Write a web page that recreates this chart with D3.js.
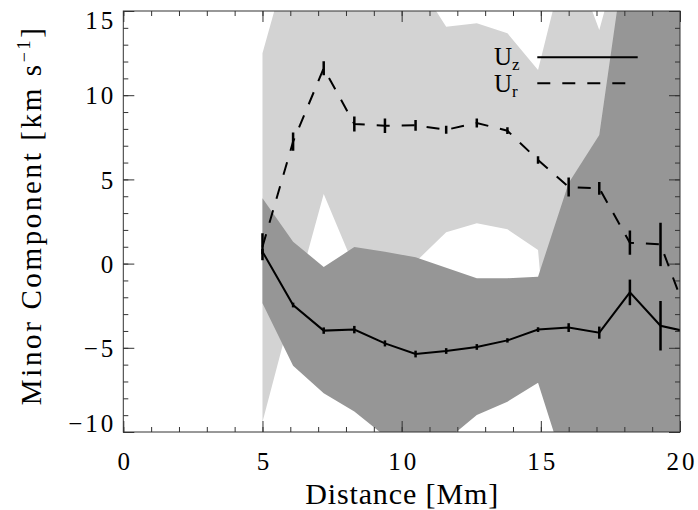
<!DOCTYPE html>
<meta charset="utf-8">
<style>
body { margin: 0; background: #fff; }
text { font-family: "Liberation Serif", serif; fill: #000; }
.axis path { display: none; }
.axis line { stroke: #333; stroke-width: 1; }
.frame { fill: none; stroke: #333; stroke-width: 1; }
</style>
<svg width="698" height="510"></svg>
<script src="https://d3js.org/d3.v7.min.js"></script>
<script>

// distance [Mm] of each sample (last one lies past the right edge)
var dist = [5.0, 6.1, 7.2, 8.3, 9.4, 10.5, 11.6, 12.7, 13.8, 14.9, 16.0, 17.1, 18.2, 19.3, 20.4];

// U_z and its error
var uz    = [0.71, -2.46, -3.98, -3.92, -4.74, -5.37, -5.19, -4.95, -4.56, -3.92, -3.80, -4.10, -1.71, -3.69, -4.1];
var uzErr = [0.15, 0.14, 0.19, 0.22, 0.18, 0.20, 0.17, 0.17, 0.13, 0.14, 0.26, 0.36, 0.76, 1.47, 0.5];

// U_r and its error
var ur    = [1.0, 7.24, 11.6, 8.29, 8.19, 8.21, 7.95, 8.35, 7.89, 6.15, 4.55, 4.47, 1.24, 1.14, -3.7];
var urErr = [0.8, 0.54, 0.42, 0.45, 0.43, 0.32, 0.24, 0.27, 0.20, 0.22, 0.56, 0.38, 0.72, 1.29, 0.5];

// spread bands (light = U_r, dark = U_z)
var lightLo = [-9.4, -2.5, 4.13, -0.2, -0.2, 0.1, 1.86, 2.39, 2.04, 0.81, -20, -20, -20, -20, -20];
var lightHi = [12.49, 19, 19, 18, 18, 16.9, 14.07, 14.27, 13.68, 11.5, 18.8, 13.87, 20.5, 20, 20];
var darkLo  = [-2.36, -6.06, -7.7, -8.79, -10.24, -11.0, -10.5, -8.99, -8.2, -7.07, -12.8, -14, -14, -14, -14];
var darkHi  = [3.88, 1.3, -0.2, 0.98, 0.71, 0.37, -0.25, -0.87, -0.87, -0.78, 4.78, 7.64, 20.4, 20, 20];

var xMajor = [0, 5, 10, 15, 20];
var yMajor = [-10, -5, 0, 5, 10, 15];

var svg = d3.select("svg"),
    width = +svg.attr("width"),
    height = +svg.attr("height");

var m = {left: 123.3, right: 680, top: 11, bottom: 432};

var x = d3.scaleLinear().domain([0, 20]).range([m.left, m.right]);
var y = d3.scaleLinear().domain([-10, 15]).range([m.bottom, m.top]);

svg.append("defs").append("clipPath").attr("id", "clip")
  .append("rect")
    .attr("x", m.left).attr("y", m.top)
    .attr("width", m.right - m.left).attr("height", m.bottom - m.top);

var rows = dist.map(function(d, i) {
  return {x: d, uz: uz[i], uzErr: uzErr[i], ur: ur[i], urErr: urErr[i],
          lLo: lightLo[i], lHi: lightHi[i], dLo: darkLo[i], dHi: darkHi[i]};
});

var plot = svg.append("g").attr("clip-path", "url(#clip)");

plot.append("path")
    .datum(rows)
    .attr("fill", "#d3d3d3")
    .attr("d", d3.area().x(function(d) { return x(d.x); })
      .y0(function(d) { return y(d.lLo); })
      .y1(function(d) { return y(d.lHi); }));

plot.append("path")
    .datum(rows)
    .attr("fill", "#969696")
    .attr("d", d3.area().x(function(d) { return x(d.x); })
      .y0(function(d) { return y(d.dLo); })
      .y1(function(d) { return y(d.dHi); }));

plot.append("path")
    .datum(rows)
    .attr("fill", "none").attr("stroke", "#000").attr("stroke-width", 2)
    .attr("d", d3.line().x(function(d) { return x(d.x); }).y(function(d) { return y(d.uz); }));

plot.append("path")
    .datum(rows)
    .attr("fill", "none").attr("stroke", "#000").attr("stroke-width", 2)
    .attr("stroke-dasharray", "13,12")
    .attr("d", d3.line().x(function(d) { return x(d.x); }).y(function(d) { return y(d.ur); }));

// error bars
["uz", "ur"].forEach(function(k) {
  plot.append("g").selectAll("line")
    .data(rows)
    .enter().append("line")
      .attr("stroke", "#000").attr("stroke-width", 2.5)
      .attr("x1", function(d) { return x(d.x); })
      .attr("x2", function(d) { return x(d.x); })
      .attr("y1", function(d) { return y(d[k] - d[k + "Err"]); })
      .attr("y2", function(d) { return y(d[k] + d[k + "Err"]); });
});

// axes: major + minor ticks on all four sides, pointing inward
function addAxis(axis, tx, ty) {
  return svg.append("g").attr("class", "axis")
    .attr("transform", "translate(" + tx + "," + ty + ")")
    .call(axis);
}

addAxis(d3.axisBottom(x).tickValues(d3.range(0, 21)).tickSize(-5).tickFormat(""), 0, m.bottom);
addAxis(d3.axisTop(x).tickValues(d3.range(0, 21)).tickSize(-5).tickFormat(""), 0, m.top);
addAxis(d3.axisTop(x).tickValues(xMajor).tickSize(-11).tickFormat(""), 0, m.top);
addAxis(d3.axisLeft(y).tickValues(d3.range(-10, 16)).tickSize(-5).tickFormat(""), m.left, 0);
addAxis(d3.axisRight(y).tickValues(d3.range(-10, 16)).tickSize(-5).tickFormat(""), m.right, 0);
addAxis(d3.axisRight(y).tickValues(yMajor).tickSize(-11).tickFormat(""), m.right, 0);

var xAxis = addAxis(d3.axisBottom(x).tickValues(xMajor).tickSize(-11), 0, m.bottom);
xAxis.selectAll("text")
    .attr("y", 38).attr("dy", null)
    .attr("font-size", 25).attr("letter-spacing", 3).attr("dx", 1.5)
    .attr("font-family", "Liberation Serif");

var yAxis = addAxis(d3.axisLeft(y).tickValues(yMajor).tickSize(-11), m.left, 0);
yAxis.selectAll("text")
    .attr("x", -7).attr("dy", null)
    .attr("font-size", 25).attr("letter-spacing", 3)
    .attr("font-family", "Liberation Serif")
    .attr("y", function(d) {
      var b = y(d) + 8.7;
      b = Math.max(b, m.top + 17.3);
      b = Math.min(b, m.bottom - 0.3);
      return b - y(d);
    });

svg.append("rect").attr("class", "frame")
    .attr("x", m.left).attr("y", m.top)
    .attr("width", m.right - m.left).attr("height", m.bottom - m.top);

// axis titles
svg.append("text")
    .attr("x", (m.left + m.right) / 2).attr("y", 504)
    .attr("text-anchor", "middle")
    .attr("font-size", 30)
    .attr("textLength", 193).attr("lengthAdjust", "spacing")
    .text("Distance [Mm]");

var yt = svg.append("text")
    .attr("transform", "translate(40.7,216.7) rotate(-90)")
    .attr("text-anchor", "middle")
    .attr("font-size", 29)
    .attr("textLength", 377).attr("lengthAdjust", "spacing");
yt.append("tspan").text("Minor Component [km s");
yt.append("tspan").attr("dy", -11).attr("font-size", 18).text("\u22121");
yt.append("tspan").attr("dy", 11).text("]");

// legend
var legend = [
  {label: "z", y: 57.3, x2: 637.7, dash: null, base: 65},
  {label: "r", y: 83.3, x2: 626, dash: "13,12", base: 91.7}
];
legend.forEach(function(d) {
  svg.append("line")
      .attr("x1", 537.3).attr("x2", d.x2)
      .attr("y1", d.y).attr("y2", d.y)
      .attr("stroke", "#000").attr("stroke-width", 2)
      .attr("stroke-dasharray", d.dash);
  var t = svg.append("text")
      .attr("x", 494).attr("y", d.base)
      .attr("font-size", 25);
  t.append("tspan").text("U");
  t.append("tspan").attr("dy", 5).attr("font-size", 17).text(d.label);
});

</script>
